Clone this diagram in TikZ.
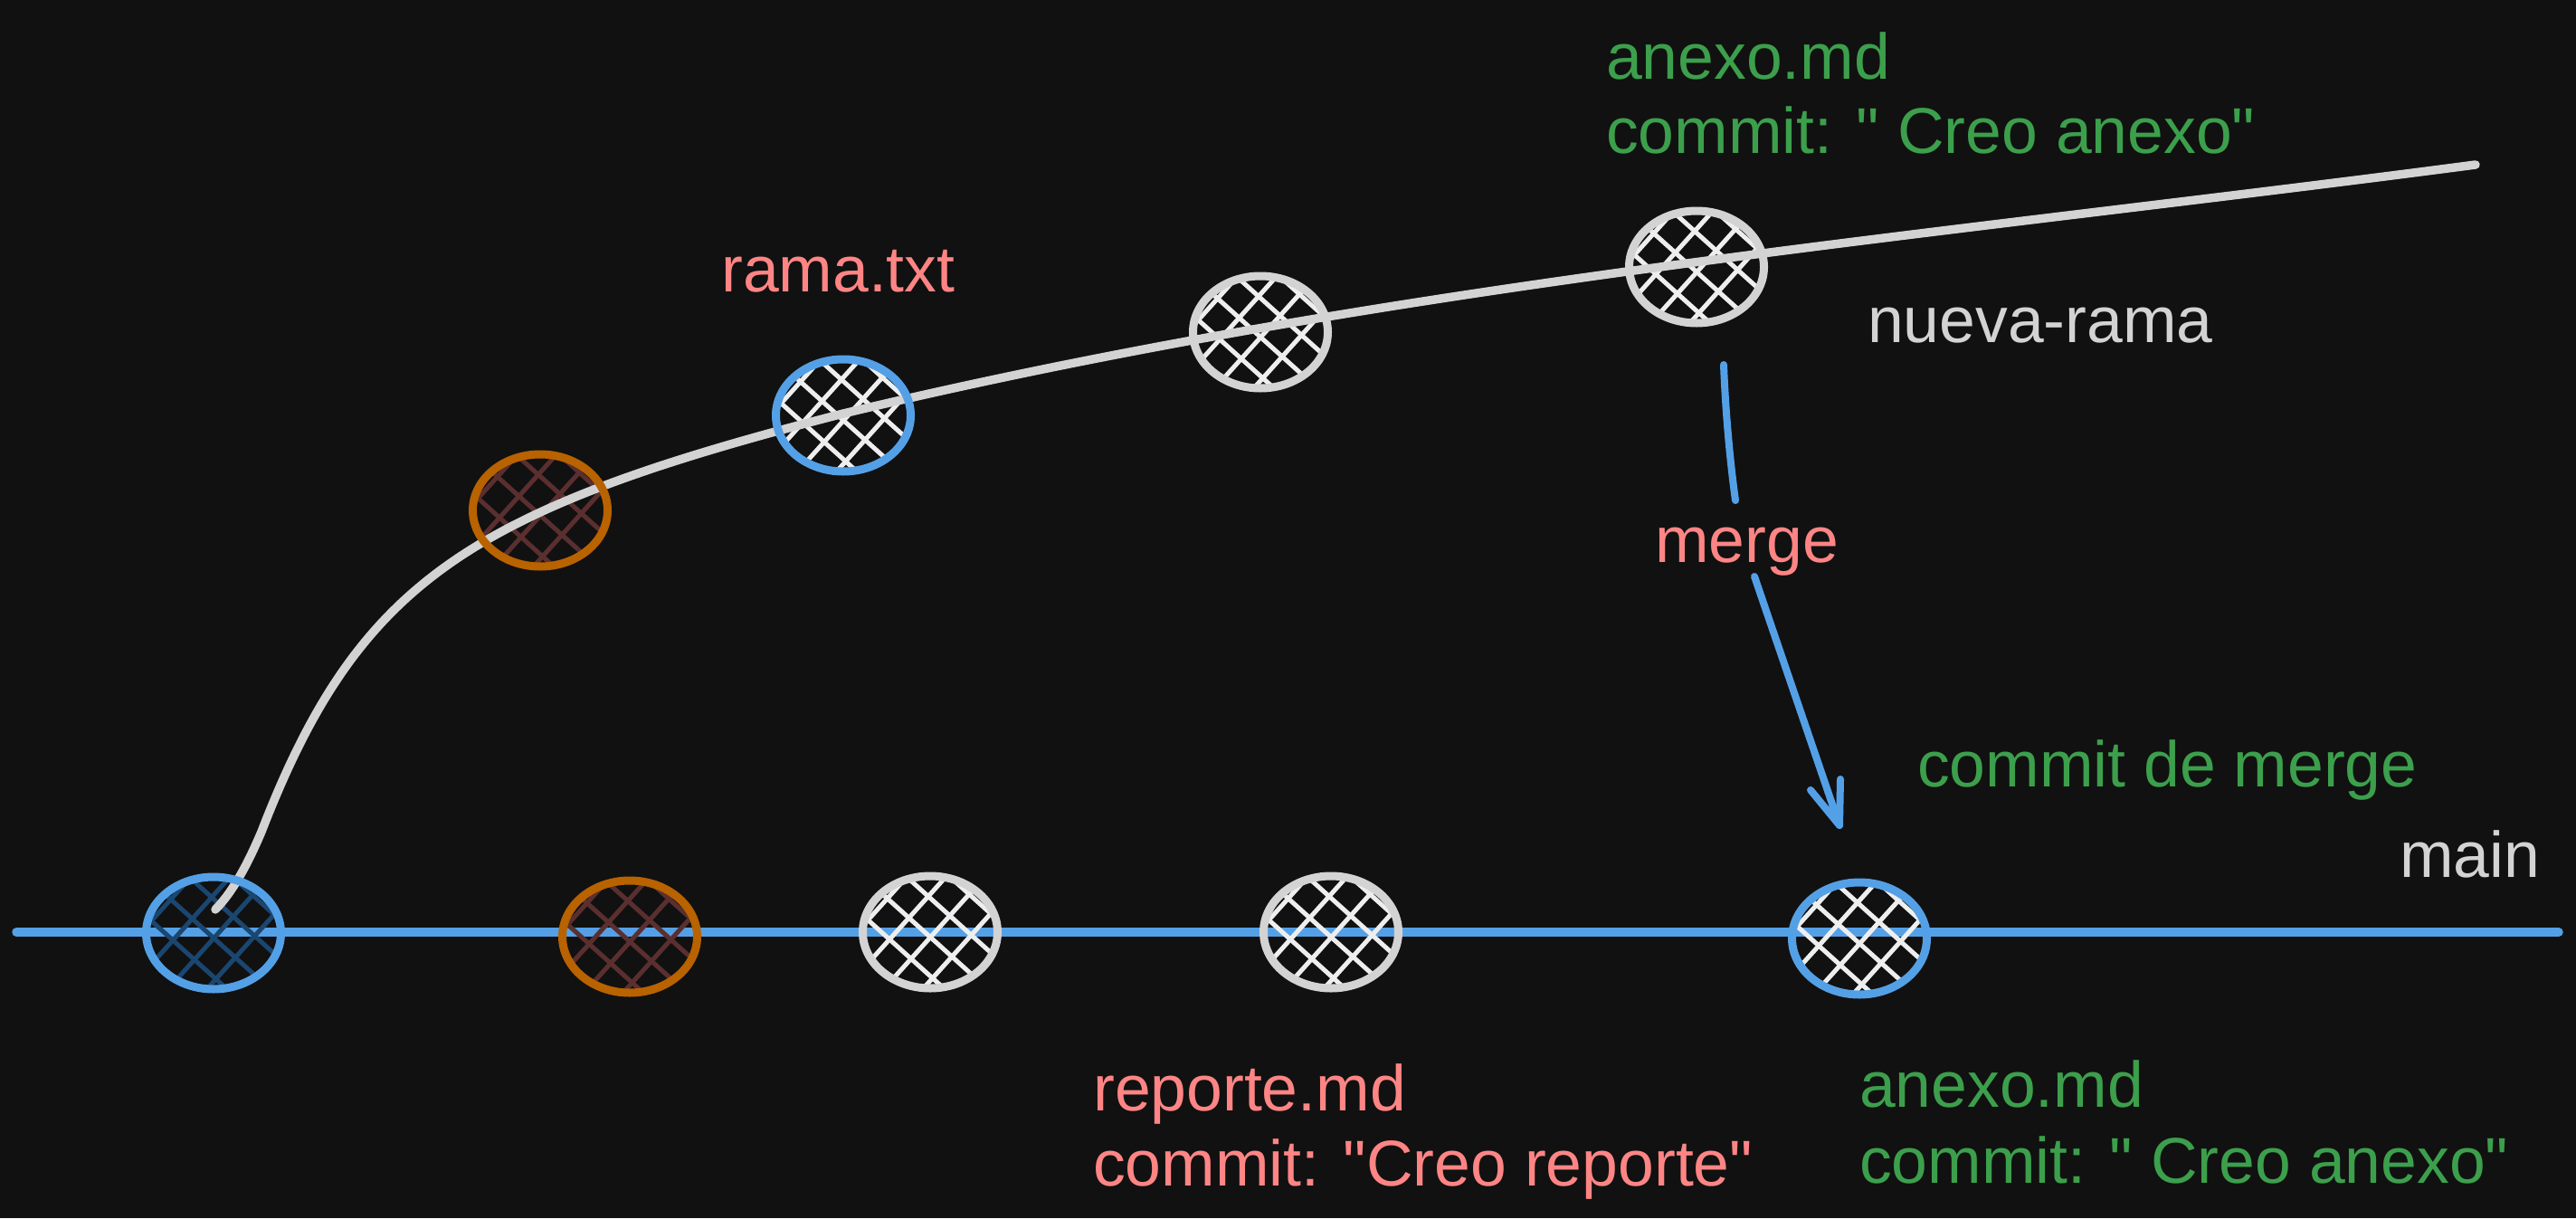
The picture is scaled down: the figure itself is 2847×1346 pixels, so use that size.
\documentclass[tikz,border=0pt]{standalone}
\usepackage{fontspec}
\setmainfont{Liberation Sans}[Ligatures=TeXOff]
\usetikzlibrary{shapes.geometric,calc}
\definecolor{bg}{HTML}{111111}
\definecolor{lgray}{HTML}{D3D3D3}
\definecolor{hwhite}{HTML}{EEEEEE}
\definecolor{gblue}{HTML}{54A0E6}
\definecolor{gorange}{HTML}{B86200}
\definecolor{horange}{HTML}{5B2F2F}
\definecolor{hblue}{HTML}{1A4670}
\definecolor{tpink}{HTML}{FF8585}
\definecolor{tgreen}{HTML}{3C9F4C}
\tikzset{
  commit/.style={ellipse, minimum width=149, minimum height=124, inner sep=0pt, line width=9pt},
  hatchline/.style={line width=5pt},
  lbl/.style={anchor=base west, inner sep=0pt, font=\fontsize{71.5}{83}\selectfont},
  track/.style={line width=9.5pt, line cap=round, line join=round},
}
\newcommand{\hatchfill}[2]{%
  \begin{scope}
    \clip (#1) ellipse [x radius=72, y radius=60];
    \begin{scope}[shift={(#1)}, rotate=-42]
      \foreach \o in {-124,-92,-60,-28,4,36,68,100,132} \draw[hatchline,#2] (-130,\o) -- (130,\o);
    \end{scope}
    \begin{scope}[shift={(#1)}, rotate=48]
      \foreach \o in {-124,-92,-60,-28,4,36,68,100,132} \draw[hatchline,#2] (-130,\o) -- (130,\o);
    \end{scope}
  \end{scope}}
\begin{document}
\begin{tikzpicture}[x=1pt,y=-1pt]
\fill[bg] (0,0) rectangle (2847,1346);
\useasboundingbox (0,0) rectangle (2847,1346);
% commit positions
\coordinate (p1) at (236,1031);
\coordinate (p2) at (696,1035);
\coordinate (p3) at (1028,1030);
\coordinate (p4) at (1471,1030);
\coordinate (p5) at (2055,1037);
\coordinate (q1) at (597,564);
\coordinate (q2) at (932,459);
\coordinate (q3) at (1393,367);
\coordinate (q4) at (1875,295);
\coordinate (mainL) at (18,1030);
\coordinate (mainR) at (2828,1030);
\coordinate (bstart) at (238,1005);
\coordinate (bbend) at (289,919);
\coordinate (bmid) at (932,457);
\coordinate (bend) at (2736,182);
% main branch line
\draw[track, gblue] (mainL) -- (mainR);
% hatches
\hatchfill{p1}{hblue}
\hatchfill{p2}{horange}
\hatchfill{p3}{hwhite}
\hatchfill{p4}{hwhite}
\hatchfill{p5}{hwhite}
\hatchfill{q1}{horange}
\hatchfill{q2}{hwhite}
\hatchfill{q3}{hwhite}
\hatchfill{q4}{hwhite}
% nueva-rama curve
\draw[track, lgray] (bstart) .. controls (258,985) and (275,952) .. (bbend)
  .. controls (397,640) and (520,563) .. (bmid)
  .. controls (1532,313) and (2136,261) .. (bend);
% commit outlines
\node[commit, draw=gblue] (c1) at (p1) {};
\node[commit, draw=gorange] (c2) at (p2) {};
\node[commit, draw=lgray] (c3) at (p3) {};
\node[commit, draw=lgray] (c4) at (p4) {};
\node[commit, draw=gblue] (c5) at (p5) {};
\node[commit, draw=gorange] (r1) at (q1) {};
\node[commit, draw=gblue] (r2) at (q2) {};
\node[commit, draw=lgray] (r3) at (q3) {};
\node[commit, draw=lgray] (r4) at (q4) {};
% merge arrow
\coordinate (ma) at (1905,403);
\coordinate (mb) at (1918,553);
\coordinate (mc) at (1939,637);
\coordinate (md) at (2033,912);
\draw[track, gblue, line width=8pt] (ma) .. controls (1907,455) and (1912,510) .. (mb);
\draw[track, gblue, line width=8pt] (mc) -- (md) -- ++(-32,-39);
\draw[track, gblue, line width=8pt] (md) -- ++(1,-51);
% labels
\node[lbl, tgreen] (t1a) at (1775,87) {anexo.md};
\node[lbl, tgreen] (t1b) at (1775,169) {commit: " Creo anexo"};
\node[lbl, tpink] (t2) at (797,322) {rama.txt};
\node[lbl, lgray] (t3) at (2064,378) {nueva-rama};
\node[lbl, tpink] (t4) at (1829,621) {merge};
\node[lbl, tgreen] (t5) at (2119,869) {commit de merge};
\node[lbl, lgray] (t6) at (2652,969) {main};
\node[lbl, tpink] (t7a) at (1208,1227) {reporte.md};
\node[lbl, tpink] (t7b) at (1208,1310) {commit: "Creo reporte"};
\node[lbl, tgreen] (t8a) at (2055,1223) {anexo.md};
\node[lbl, tgreen] (t8b) at (2055,1307) {commit: " Creo anexo"};
\end{tikzpicture}
\end{document}
